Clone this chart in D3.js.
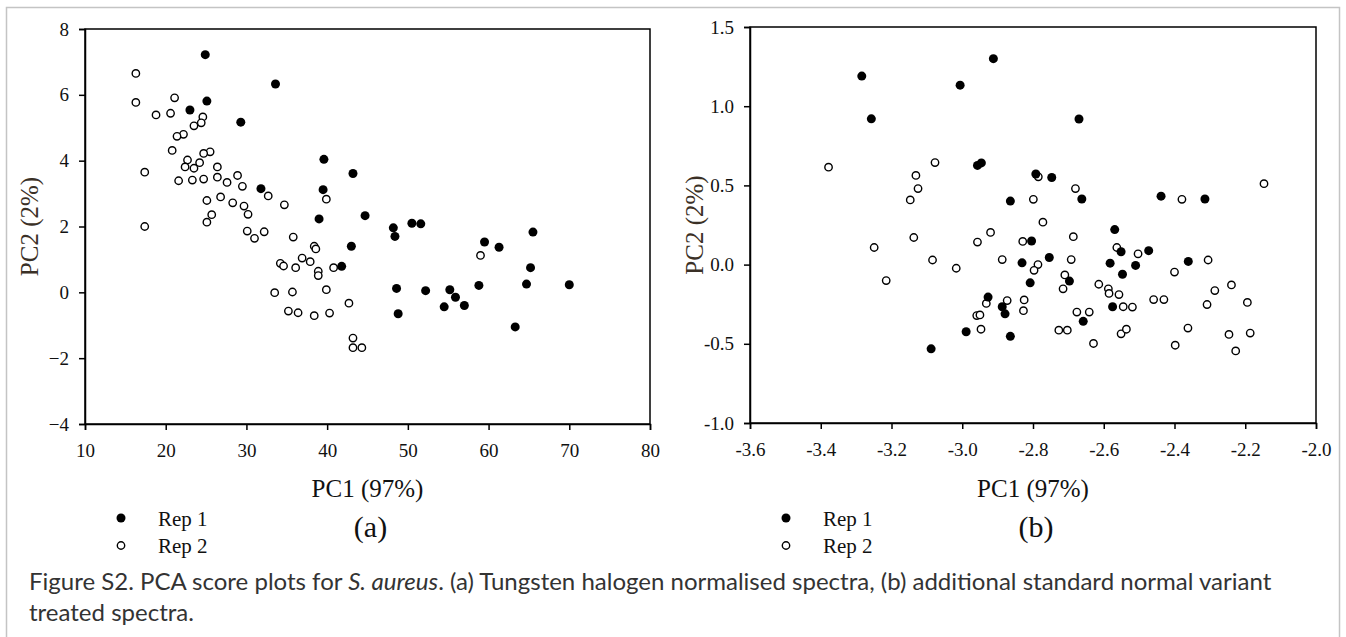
<!DOCTYPE html>
<html>
<head>
<meta charset="utf-8">
<script src="https://cdn.jsdelivr.net/npm/d3@7"></script>
<style>
  html, body { margin: 0; padding: 0; background: #fff; }
  svg { display: block; }
</style>
</head>
<body>
<svg id="chart" width="1346" height="637"></svg>
<script>
// ---------- DATA ----------
// Panel (a): Tungsten halogen normalised spectra
const aRep1 = [
  [24.9,7.22],[33.6,6.33],[25.1,5.81],[23.0,5.54],[29.3,5.17],[39.6,4.04],[43.2,3.61],
  [31.8,3.15],[39.5,3.12],[44.7,2.33],[39.0,2.23],[48.2,1.96],[48.4,1.70],[50.5,2.10],
  [51.6,2.08],[65.5,1.83],[59.5,1.53],[61.3,1.37],[43.0,1.40],[41.8,0.79],[65.2,0.75],
  [48.6,0.12],[52.2,0.05],[55.2,0.08],[55.9,-0.15],[54.5,-0.44],[57.0,-0.40],[58.8,0.21],
  [64.7,0.25],[70.0,0.23],[48.8,-0.65],[63.3,-1.05]
];
const aRep2 = [
  [16.3,6.65],[16.3,5.77],[21.1,5.91],[18.8,5.39],[20.6,5.44],[24.6,5.33],[24.4,5.15],
  [23.5,5.06],[22.2,4.80],[21.4,4.74],[20.8,4.31],[25.5,4.27],[24.7,4.22],[22.7,4.02],
  [24.2,3.94],[22.4,3.81],[23.5,3.77],[26.4,3.81],[17.4,3.65],[26.4,3.50],[28.9,3.55],
  [27.6,3.34],[21.6,3.39],[23.3,3.41],[24.7,3.44],[29.5,3.22],[32.7,2.93],[25.1,2.79],
  [26.8,2.90],[34.7,2.66],[39.9,2.83],[28.3,2.72],[29.7,2.62],[30.2,2.37],[25.7,2.36],
  [25.1,2.13],[17.4,2.00],[30.1,1.86],[32.2,1.84],[31.0,1.64],[35.8,1.68],[36.9,1.04],
  [37.9,0.93],[38.4,1.40],[38.6,1.32],[34.2,0.88],[34.6,0.80],[36.1,0.75],[38.9,0.64],
  [38.9,0.51],[40.8,0.75],[33.5,-0.01],[35.7,0.01],[39.9,0.08],[35.2,-0.57],[36.4,-0.62],
  [38.4,-0.71],[40.3,-0.63],[42.7,-0.33],[43.2,-1.39],[43.2,-1.68],[44.3,-1.68],[59.0,1.12]
];
// Panel (b): additional standard normal variant treated spectra
const bRep1 = [
  [-3.284,1.19],[-3.257,0.92],[-2.912,1.30],[-3.006,1.133],[-2.670,0.919],[-2.957,0.626],
  [-2.946,0.642],[-2.792,0.572],[-2.747,0.550],[-2.864,0.401],[-2.662,0.414],[-2.438,0.432],
  [-2.314,0.414],[-2.569,0.221],[-2.804,0.149],[-2.473,0.088],[-2.551,0.081],[-2.754,0.045],
  [-2.831,0.011],[-2.582,0.009],[-2.361,0.020],[-2.510,-0.005],[-2.547,-0.061],[-2.808,-0.115],
  [-2.697,-0.104],[-2.927,-0.205],[-2.887,-0.266],[-2.879,-0.311],[-2.575,-0.266],[-2.658,-0.358],
  [-2.989,-0.424],[-2.864,-0.453],[-3.088,-0.532]
];
const bRep2 = [
  [-3.378,0.615],[-3.077,0.644],[-3.131,0.563],[-3.125,0.480],[-3.147,0.408],[-3.137,0.171],
  [-3.249,0.108],[-3.084,0.029],[-3.215,-0.101],[-3.017,-0.023],[-2.920,0.203],[-2.957,0.142],
  [-2.887,0.032],[-2.829,0.146],[-2.799,0.412],[-2.785,0.554],[-2.772,0.268],[-2.786,0.000],
  [-2.797,-0.036],[-2.680,0.480],[-2.686,0.176],[-2.692,0.032],[-2.710,-0.065],[-2.715,-0.153],
  [-2.614,-0.124],[-2.563,0.108],[-2.503,0.068],[-2.587,-0.153],[-2.585,-0.182],[-2.557,-0.189],
  [-2.873,-0.227],[-2.825,-0.223],[-2.827,-0.291],[-2.932,-0.245],[-2.959,-0.322],[-2.950,-0.318],
  [-2.947,-0.408],[-2.727,-0.414],[-2.703,-0.414],[-2.676,-0.300],[-2.641,-0.300],[-2.629,-0.498],
  [-2.545,-0.266],[-2.519,-0.268],[-2.551,-0.437],[-2.536,-0.408],[-2.459,-0.221],[-2.430,-0.221],
  [-2.400,-0.047],[-2.379,0.412],[-2.305,0.029],[-2.308,-0.252],[-2.362,-0.401],[-2.398,-0.509],
  [-2.286,-0.164],[-2.239,-0.128],[-2.194,-0.239],[-2.186,-0.432],[-2.246,-0.441],[-2.227,-0.545],
  [-2.147,0.511]
];
const aXTicks = [10,20,30,40,50,60,70,80];
const aYTicks = [-4,-2,0,2,4,6,8];
const bXTicks = [-3.6,-3.4,-3.2,-3.0,-2.8,-2.6,-2.4,-2.2,-2.0];
const bYTicks = [-1.0,-0.5,0.0,0.5,1.0,1.5];
const seriesNames = ["Rep 1","Rep 2"];
const xTitle = "PC1 (97%)";
const yTitle = "PC2 (2%)";
const panelLabels = ["(a)","(b)"];

// ---------- DRAW ----------
const svg = d3.select("#chart");
const serif = "'Liberation Serif','Times New Roman',serif";

// outer frame
svg.append("rect").attr("x",6.5).attr("y",7.5).attr("width",1333).attr("height",660)
  .attr("fill","none").attr("stroke","#c4c4c4").attr("stroke-width",1.5);

function panel(cfg) {
  const x = d3.scaleLinear().domain(cfg.xDomain).range([cfg.left, cfg.right]);
  const y = d3.scaleLinear().domain(cfg.yDomain).range([cfg.bottom, cfg.top]);
  const g = svg.append("g");

  // frame box
  g.append("rect").attr("x",cfg.left).attr("y",cfg.top)
    .attr("width",cfg.right-cfg.left).attr("height",cfg.bottom-cfg.top)
    .attr("fill","none").attr("stroke","#000").attr("stroke-width",1.5);

  const xAxis = d3.axisBottom(x).tickValues(cfg.xTicks).tickSize(6).tickPadding(8)
    .tickFormat(cfg.xFmt);
  const yAxis = d3.axisLeft(y).tickValues(cfg.yTicks).tickSize(6).tickPadding(10)
    .tickFormat(cfg.yFmt);
  const gx = g.append("g").attr("transform",`translate(0,${cfg.bottom})`).call(xAxis);
  const gy = g.append("g").attr("transform",`translate(${cfg.left},0)`).call(yAxis);
  [gx, gy].forEach(ax => {
    ax.select(".domain").attr("stroke","#000").attr("stroke-width",1.5);
    ax.selectAll(".tick line").attr("stroke","#000").attr("stroke-width",1.5);
    ax.selectAll(".tick text").attr("fill","#111").style("font-family",serif).style("font-size","19px");
  });
  gx.selectAll(".tick text").attr("dy","18.5px");

  // points
  g.append("g").selectAll("circle.r2").data(cfg.rep2).join("circle")
    .attr("cx",d=>x(d[0])).attr("cy",d=>y(d[1])).attr("r",3.7)
    .attr("fill","#fff").attr("stroke","#000").attr("stroke-width",1.4);
  g.append("g").selectAll("circle.r1").data(cfg.rep1).join("circle")
    .attr("cx",d=>x(d[0])).attr("cy",d=>y(d[1])).attr("r",4.5)
    .attr("fill","#000");

  // axis titles
  const cx = (cfg.left+cfg.right)/2;
  g.append("text").attr("x",cx).attr("y",497).attr("text-anchor","middle")
    .style("font-family",serif).style("font-size","25px").attr("fill","#111").text(xTitle);
  g.append("text").attr("transform",`translate(${cfg.left-47},${(cfg.top+cfg.bottom)/2}) rotate(-90)`)
    .attr("text-anchor","middle").style("font-family",serif).style("font-size","25px")
    .attr("fill","#3a3026").text(yTitle);

  // legend
  const lx = cfg.left + 36;
  g.append("circle").attr("cx",lx).attr("cy",518).attr("r",4.5).attr("fill","#000");
  g.append("circle").attr("cx",lx).attr("cy",545.5).attr("r",3.7).attr("fill","#fff")
    .attr("stroke","#000").attr("stroke-width",1.4);
  g.append("text").attr("x",lx+37).attr("y",526).style("font-family",serif)
    .style("font-size","21px").attr("fill","#111").text(seriesNames[0]);
  g.append("text").attr("x",lx+37).attr("y",553).style("font-family",serif)
    .style("font-size","21px").attr("fill","#111").text(seriesNames[1]);
  g.append("text").attr("x",cx+3).attr("y",537).attr("text-anchor","middle")
    .style("font-family",serif).style("font-size","30px").attr("fill","#111").text(cfg.label);
}

panel({
  left:85, right:650, top:29, bottom:424,
  xDomain:[10,80], yDomain:[-4,8], xTicks:aXTicks, yTicks:aYTicks,
  xFmt:d3.format("d"), yFmt:d3.format("d"),
  rep1:aRep1, rep2:aRep2, label:panelLabels[0]
});
panel({
  left:750, right:1316, top:27, bottom:423,
  xDomain:[-3.6,-2.0], yDomain:[-1.0,1.5], xTicks:bXTicks, yTicks:bYTicks,
  xFmt:d=>d3.format(".1f")(d).replace("−","-"), yFmt:d=>d3.format(".1f")(d).replace("−","-"),
  rep1:bRep1, rep2:bRep2, label:panelLabels[1]
});

// caption
const capFont = "Lato, 'Open Sans', sans-serif";
const cap1 = svg.append("text").attr("x",29).attr("y",590)
  .style("font-family",capFont).style("font-size","20px").attr("fill","#333");
cap1.append("tspan").text("Figure S2. PCA score plots for ");
cap1.append("tspan").style("font-style","italic").text("S. aureus");
cap1.append("tspan").text(". (a) Tungsten halogen normalised spectra, (b) additional standard normal variant");
const cap2 = svg.append("text").attr("x",29).attr("y",621)
  .style("font-family",capFont).style("font-size","20px").attr("fill","#333")
  .text("treated spectra.");
// fit caption width to the figure
const w = cap1.node().getComputedTextLength();
const fs = 20 * 1243 / w;
cap1.style("font-size", fs + "px");
cap2.style("font-size", fs + "px");
</script>
</body>
</html>
